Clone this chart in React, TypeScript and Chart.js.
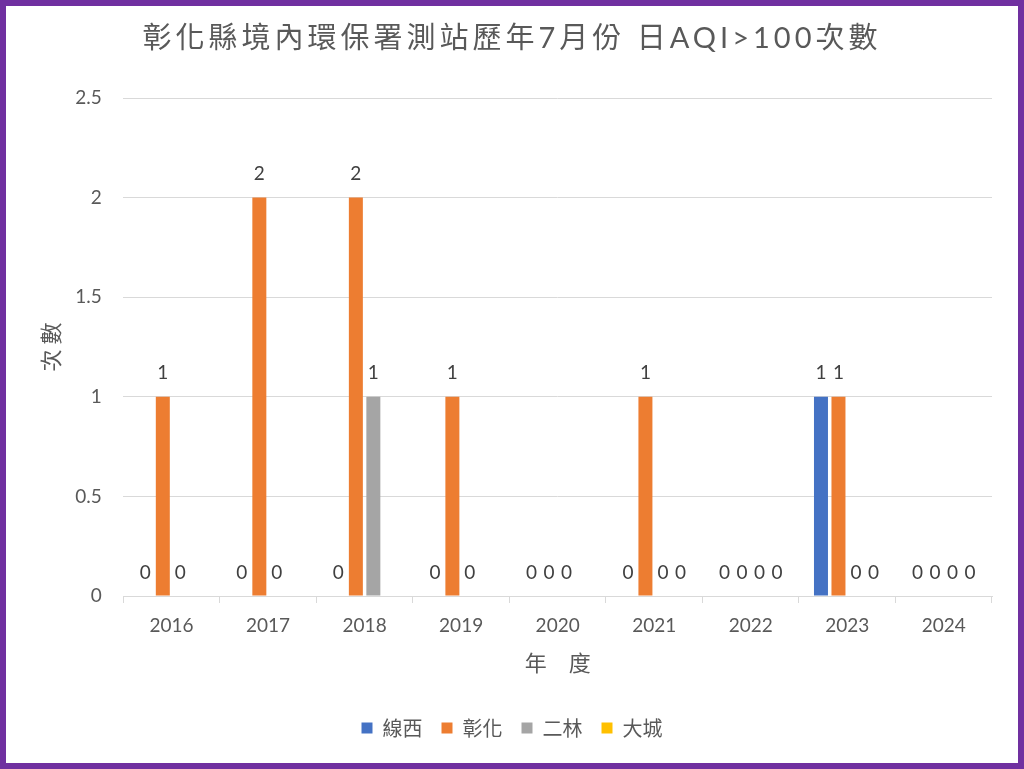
import React, { useEffect, useRef } from "react";
import { Chart, registerables } from "chart.js";

Chart.register(...registerables);

// ---- Data ----
const categories = ["2016", "2017", "2018", "2019", "2020", "2021", "2022", "2023", "2024"];
const seriesNames = ["線西", "彰化", "二林", "大城"];
const xianxiValues = [0, 0, 0, 0, 0, 0, 0, 1, 0];
const changhuaValues = [1, 2, 2, 1, 0, 1, 0, 1, 0];
const erlinValues = [0, 0, 1, 0, 0, 0, 0, 0, 0];
const dachengValues = [null, null, null, null, null, 0, 0, 0, 0];
const yTickValues = [0, 0.5, 1, 1.5, 2, 2.5];
const yTickLabels = ["0", "0.5", "1", "1.5", "2", "2.5"];
const titleText = "彰化縣境內環保署測站歷年7月份 日AQI>100次數";
const xTitleText = "年　度";
const yTitleText = "次 數";

const seriesColors = ["#4472C4", "#ED7D31", "#A5A5A5", "#FFC000"];

const LATIN = 'Lato, "Noto Sans CJK TC", sans-serif';
const CJK = '"Noto Sans CJK TC", Lato, sans-serif';
const TEXT = "#595959";
const GRID = "#D9D9D9";

const dataLabelPlugin = {
  id: "dataLabels",
  afterDatasetsDraw(chart: any) {
    const ctx = chart.ctx;
    ctx.save();
    ctx.font = `19px ${LATIN}`;
    ctx.fillStyle = "#404040";
    ctx.textAlign = "center";
    ctx.textBaseline = "middle";
    chart.data.datasets.forEach((ds: any, i: number) => {
      const meta = chart.getDatasetMeta(i);
      meta.data.forEach((el: any, j: number) => {
        const v = ds.data[j];
        if (v === null || v === undefined) return;
        const { x, y } = el.getProps(["x", "y"], true);
        if (!isFinite(x) || !isFinite(y)) return;
        ctx.fillText(String(v), x, y - 23.5);
      });
    });
    ctx.restore();
  },
};

const titleSpacingPlugin = {
  id: "titleSpacing",
  beforeDraw(chart: any) {
    const tb = chart.titleBlock;
    if (tb && !tb.__spaced) {
      const orig = tb.draw.bind(tb);
      tb.draw = function () {
        const c = chart.ctx;
        c.save();
        (c as any).letterSpacing = "4px";
        orig();
        c.restore();
      };
      tb.__spaced = true;
    }
  },
};

export default function App() {
  const canvasRef = useRef<HTMLCanvasElement | null>(null);

  useEffect(() => {
    if (!canvasRef.current) return;
    const values = [xianxiValues, changhuaValues, erlinValues, dachengValues];
    const chart = new Chart(canvasRef.current, {
      type: "bar",
      data: {
        labels: categories,
        datasets: seriesNames.map((name, i) => ({
          label: name,
          data: values[i] as any,
          backgroundColor: seriesColors[i],
          borderWidth: 0,
          categoryPercentage: 0.725,
          barPercentage: 0.8,
        })),
      },
      options: {
        responsive: false,
        animation: false,
        devicePixelRatio: 1,
        layout: { padding: { top: 0, left: 0, right: 0, bottom: 15 } },
        plugins: {
          tooltip: { enabled: false },
          title: {
            display: true,
            text: titleText,
            color: TEXT,
            font: { family: LATIN, size: 29, weight: "normal" as any, lineHeight: 1.2 },
            padding: { top: 15.6, bottom: 41.6 },
          },
          legend: {
            display: true,
            position: "bottom",
            labels: {
              boxWidth: 11,
              boxHeight: 11,
              padding: 19,
              color: TEXT,
              font: { family: CJK, size: 20 },
            },
          },
        },
        scales: {
          x: {
            grid: {
              display: true,
              drawOnChartArea: false,
              drawTicks: true,
              tickLength: 7,
              color: GRID,
              offset: true,
            },
            border: { display: true, color: GRID, width: 1 },
            ticks: {
              color: TEXT,
              font: { family: LATIN, size: 19 },
              padding: 11,
              maxRotation: 0,
              autoSkip: false,
            },
            title: {
              display: true,
              text: xTitleText,
              color: TEXT,
              font: { family: CJK, size: 22 },
              padding: { top: 0, bottom: 22.8 },
            },
            afterFit(scale: any) {
              scale.height = 103;
            },
          },
          y: {
            min: 0,
            max: 2.5,
            ticks: {
              stepSize: 0.5,
              color: TEXT,
              font: { family: LATIN, size: 19 },
              padding: 21.6,
              callback: (value: any) => {
                const idx = yTickValues.indexOf(Number(value));
                return idx >= 0 ? yTickLabels[idx] : "";
              },
            },
            afterBuildTicks(scale: any) {
              scale.ticks = yTickValues.map((v) => ({ value: v }));
            },
            grid: { color: GRID, drawTicks: false },
            border: { display: false },
            title: {
              display: true,
              text: yTitleText,
              color: TEXT,
              font: { family: CJK, size: 22 },
              padding: { top: 31.8, bottom: 0 },
            },
            afterFit(scale: any) {
              scale.width = 117.3;
            },
          },
          yRight: {
            type: "linear",
            position: "right",
            display: true,
            grid: { display: false, drawTicks: false },
            border: { display: false },
            ticks: { display: false },
            afterFit(scale: any) {
              scale.width = 26;
            },
          },
        },
      } as any,
      plugins: [dataLabelPlugin, titleSpacingPlugin],
    });
    return () => chart.destroy();
  }, []);

  return (
    <div
      style={{
        position: "absolute",
        left: 0,
        top: 0,
        width: 1024,
        height: 769,
        boxSizing: "border-box",
        border: "6px solid #7030A0",
        background: "#ffffff",
      }}
    >
      <canvas
        ref={canvasRef}
        width={1012}
        height={757}
        style={{ display: "block", width: 1012, height: 757 }}
      />
    </div>
  );
}
